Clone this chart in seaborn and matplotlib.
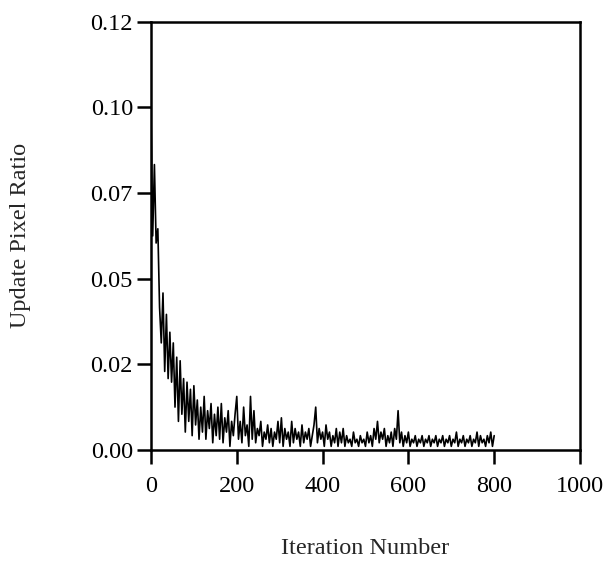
import numpy as np
import pandas as pd
import seaborn as sns
import matplotlib.pyplot as plt

# update pixel ratio, every 4 iterations (0..800)
iterations = np.arange(0, 804, 4)
ratio = [
    0.095, 0.060, 0.080, 0.058, 0.062, 0.040, 0.030, 0.044, 0.022, 0.038,
    0.020, 0.033, 0.019, 0.030, 0.012, 0.026, 0.008, 0.025, 0.010, 0.020,
    0.005, 0.019, 0.008, 0.017, 0.004, 0.018, 0.007, 0.014, 0.003, 0.012,
    0.005, 0.015, 0.003, 0.011, 0.006, 0.013, 0.002, 0.010, 0.004, 0.012,
    0.003, 0.013, 0.002, 0.009, 0.005, 0.011, 0.001, 0.008, 0.004, 0.010,
    0.015, 0.003, 0.008, 0.002, 0.012, 0.004, 0.007, 0.001, 0.015, 0.003,
    0.011, 0.002, 0.006, 0.004, 0.008, 0.001, 0.005, 0.003, 0.007, 0.002,
    0.006, 0.001, 0.005, 0.003, 0.008, 0.002, 0.009, 0.001, 0.006, 0.003,
    0.005, 0.001, 0.008, 0.002, 0.006, 0.003, 0.005, 0.001, 0.007, 0.002,
    0.005, 0.003, 0.006, 0.001, 0.004, 0.007, 0.012, 0.002, 0.006, 0.003,
    0.005, 0.001, 0.007, 0.003, 0.005, 0.001, 0.004, 0.002, 0.006, 0.001,
    0.005, 0.002, 0.006, 0.001, 0.004, 0.002, 0.003, 0.001, 0.005, 0.002,
    0.003, 0.001, 0.004, 0.002, 0.003, 0.001, 0.005, 0.002, 0.004, 0.001,
    0.006, 0.003, 0.008, 0.002, 0.005, 0.003, 0.006, 0.001, 0.004, 0.002,
    0.005, 0.001, 0.006, 0.003, 0.011, 0.002, 0.005, 0.001, 0.004, 0.002,
    0.005, 0.001, 0.003, 0.002, 0.004, 0.001, 0.003, 0.002, 0.004, 0.001,
    0.003, 0.002, 0.004, 0.001, 0.003, 0.002, 0.004, 0.001, 0.003, 0.002,
    0.004, 0.001, 0.003, 0.002, 0.004, 0.001, 0.003, 0.002, 0.005, 0.001,
    0.003, 0.002, 0.004, 0.001, 0.003, 0.002, 0.004, 0.001, 0.003, 0.002,
    0.005, 0.001, 0.004, 0.002, 0.003, 0.001, 0.004, 0.002, 0.005, 0.001,
    0.004,
]
x_ticks = [0, 200, 400, 600, 800, 1000]
y_ticks = [0.0, 0.024, 0.048, 0.072, 0.096, 0.12]
y_labels = ["0.00", "0.02", "0.05", "0.07", "0.10", "0.12"]

df = pd.DataFrame({"iter": iterations, "ratio": ratio})

sns.set_style("ticks")
plt.rcParams["font.family"] = ["Liberation Serif", "DejaVu Serif"]

fig = plt.figure(figsize=(6.10, 5.61), dpi=100)
ax = fig.add_axes([0.2475, 0.198, 0.7033, 0.763])

sns.lineplot(data=df, x="iter", y="ratio", color="black", linewidth=1.2, ax=ax)

ax.set_xlim(0, 1000)
ax.set_ylim(0, 0.12)
ax.set_xticks(x_ticks)
ax.set_yticks(y_ticks)
ax.set_yticklabels(y_labels)

for s in ax.spines.values():
    s.set_linewidth(1.8)
    s.set_color("black")
ax.tick_params(axis="both", direction="out", length=10, width=1.8,
               labelsize=17.5, colors="black")
ax.tick_params(axis="x", pad=9)
ax.tick_params(axis="y", pad=3)

ax.set_xlabel("Iteration Number", fontsize=17.5, labelpad=29)
ax.set_ylabel("Update Pixel Ratio", fontsize=17.5, labelpad=43)

fig.savefig("out.png", dpi=100)
